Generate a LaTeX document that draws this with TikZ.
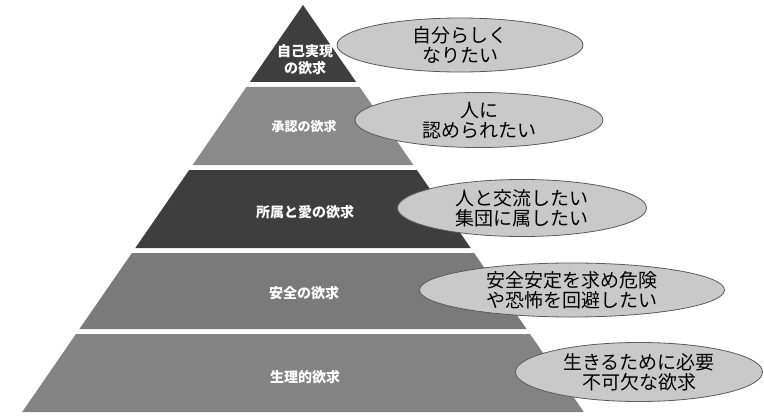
\documentclass[tikz,border=0pt]{standalone}
\usepackage{fontspec}
\setmainfont{Noto Sans CJK JP}
\newfontfamily\jpbold{Noto Sans CJK JP}[FakeBold=0]
\usetikzlibrary{shapes.geometric}
\definecolor{darkband}{HTML}{3E3E3E}
\definecolor{midband}{HTML}{8A8A8A}
\definecolor{midbandb}{HTML}{7A7A7A}
\definecolor{midbandc}{HTML}{838383}
\definecolor{ovalfill}{HTML}{C9C9C9}
\definecolor{ovaledge}{HTML}{5A5A5A}
\tikzset{
  band/.style={fill=#1, draw=none},
  lvl/.style={text=white, font=\bfseries\fontsize{13}{16}\selectfont, align=center, inner sep=0},
  wish/.style={ellipse, fill=ovalfill, draw=ovaledge, line width=0.8pt, inner sep=0,
    align=center, text=black, font=\fontsize{19}{20}\selectfont},
}
\newcommand{\bandat}[3]{%
  \fill[#3] ({303-0.69*(#1-5)},#1) -- ({303+0.69*(#1-5)},#1) -- ({303+0.69*(#2-5)},#2) -- ({303-0.69*(#2-5)},#2) -- cycle;}
\begin{document}
\begin{tikzpicture}[x=1pt,y=-1pt]
\useasboundingbox (0,0) rectangle (764,420);
\fill[white] (0,0) rectangle (764,420);
% pyramid bands
\fill[darkband] (303,5) -- ({303+0.69*77},82) -- ({303-0.69*77},82) -- cycle;
\bandat{87}{165}{midband}
\bandat{170}{248}{darkband}
\bandat{253}{329}{midbandb}
\bandat{334}{412}{midbandc}
% level labels
\node[lvl, font=\bfseries\fontsize{14}{17}\selectfont] (l1) at (305,60) {自己実現\\の欲求};
\node[lvl] (l2) at (304,127) {承認の欲求};
\node[lvl, font=\bfseries\fontsize{14}{16}\selectfont] (l3) at (305,212) {所属と愛の欲求};
\node[lvl, font=\bfseries\fontsize{14}{16}\selectfont] (l4) at (304,293) {安全の欲求};
\node[lvl, font=\bfseries\fontsize{14}{16}\selectfont] (l5) at (305,377) {生理的欲求};
% wishes
\node[wish, minimum width=246pt, minimum height=54pt] (w1) at (460,45) {自分らしく\\なりたい};
\node[wish, minimum width=248pt, minimum height=55pt] (w2) at (479,120) {人に\\認められたい};
\node[wish, minimum width=249pt, minimum height=57pt] (w3) at (522,208) {人と交流したい\\集団に属したい};
\node[wish, minimum width=305pt, minimum height=54pt] (w4) at (572,290) {安全安定を求め危険\\や恐怖を回避したい};
\node[wish, minimum width=247pt, minimum height=59pt] (w5) at (639,372) {生きるために必要\\不可欠な欲求};
\end{tikzpicture}
\end{document}
